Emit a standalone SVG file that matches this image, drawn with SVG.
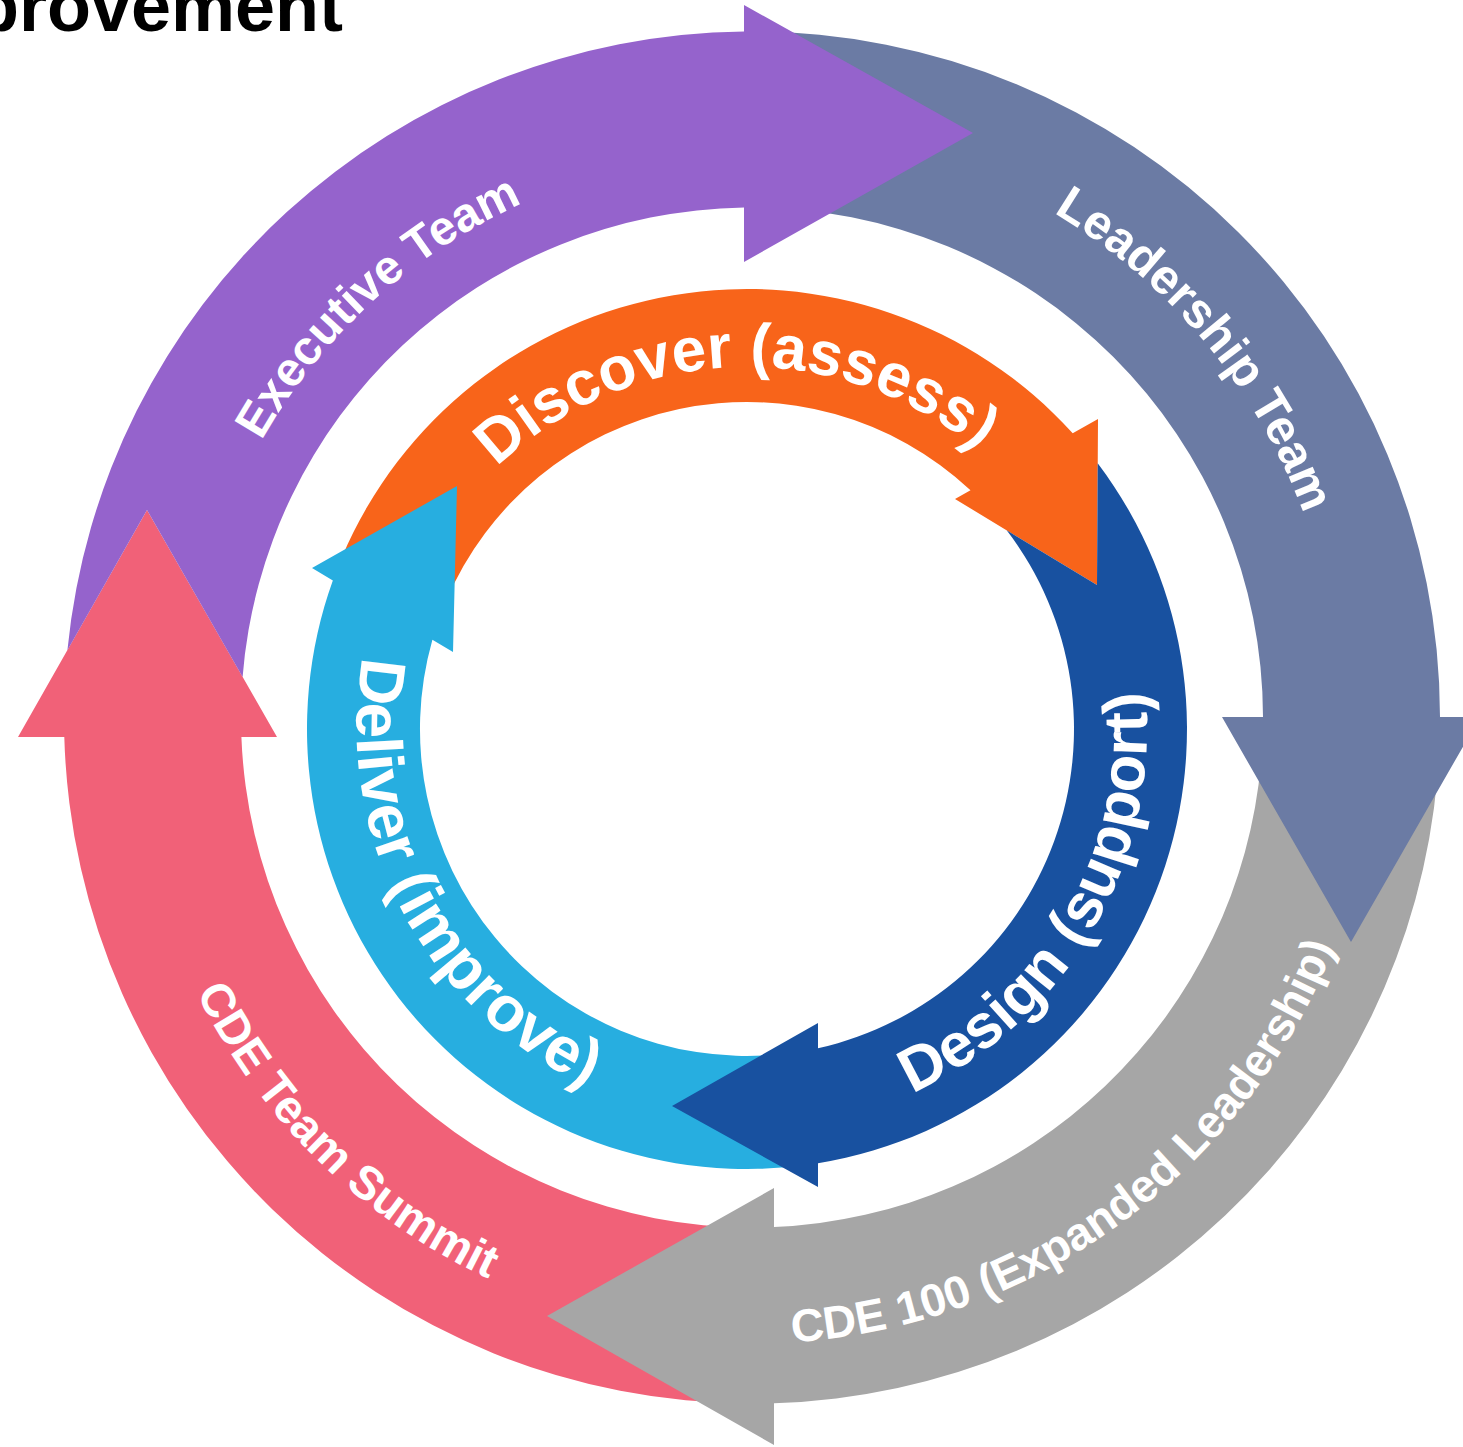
<svg xmlns="http://www.w3.org/2000/svg" xmlns:xlink="http://www.w3.org/1999/xlink" width="1463" height="1447" viewBox="0 0 1463 1447">
<style>
.lbl{font-family:"Liberation Sans",Arial,Helvetica,sans-serif;font-weight:bold;fill:#ffffff}
.o{font-size:48px}
.i{font-size:62px}
.title{font-family:"Liberation Sans",Arial,Helvetica,sans-serif;font-weight:bold;font-size:72px;fill:#000000}
</style>
<defs>
<path id="tpExec" d="M 276.1,1018.4 A 563 563 0 0 1 1096.3,272.1"/>
<path id="tpLead" d="M 460.6,206.8 A 588 588 0 0 1 1200.5,1097.8"/>
<path id="tpCDE100" d="M 317.9,1168.6 A 626 626 0 0 0 1314.1,442.1"/>
<path id="tpSummit" d="M 240.4,367.2 A 620 620 0 0 0 1112.9,1221.6"/>
<path id="tpDiscover" d="M 388.5,678.6 A 362 362 0 0 1 1101.1,653.7"/>
<path id="tpDesign" d="M 546.4,1075.1 A 400 400 0 0 0 947.6,382.9"/>
<path id="tpDeliver" d="M 563.4,379.3 A 395 395 0 0 0 930.6,1078.7"/>
</defs>
<rect x="0" y="0" width="1463" height="1447" fill="#ffffff"/>
<text class="title" x="343" y="31" text-anchor="end">provement</text>
<g id="connectors"></g>
<g id="node-cde-team-summit">
<path fill="#F16178" d="M 752,1403.5 A 688 686 0 0 1 64.3,737 L 18,737 L 147,510 L 277,737 L 241.4,737 A 511 510 0 0 0 752,1227.5 Z"/>
<text class="lbl o" style="font-size:47px"><textPath xlink:href="#tpSummit" href="#tpSummit" startOffset="50%" text-anchor="middle">CDE Team Summit</textPath></text>
</g>
<g id="node-cde-100">
<path fill="#A6A6A6" d="M 1437.38,777.29 A 688 686 0 0 1 774,1403.2 L 774,1445 L 547,1316 L 774,1188 L 774,1227 A 511 510 0 0 0 1261.06,761.95 Z"/>
<text class="lbl o" style="font-size:46px"><textPath xlink:href="#tpCDE100" href="#tpCDE100" startOffset="50%" text-anchor="middle">CDE 100 (Expanded Leadership)</textPath></text>
</g>
<g id="node-leadership-team">
<path fill="#6B7BA4" d="M 752,31.5 A 688 686 0 0 1 1440,717 L 1480,717 L 1351,942 L 1222,717 L 1263,717 A 511 510 0 0 0 752,207.5 Z"/>
<text class="lbl o" style="font-size:49px"><textPath xlink:href="#tpLead" href="#tpLead" startOffset="50%" text-anchor="middle">Leadership Team</textPath></text>
</g>
<g id="node-executive-team">
<path fill="#9563CC" d="M 67.4,650.2 A 688 686 0 0 1 744,31.5 L 744,5 L 973,133 L 744,262 L 744,207.5 A 511 510 0 0 0 242.6,677 L 147,510 Z"/>
<text class="lbl o"><textPath xlink:href="#tpExec" href="#tpExec" startOffset="50%" text-anchor="middle">Executive Team</textPath></text>
</g>
<g id="node-discover">
<path fill="#F8641A" d="M 341.98,557.08 A 440 440 0 0 1 1072.7,433.2 L 1098,419 L 1097,585 L 955,499 L 970.5,490.3 A 327 327 0 0 0 446,601.23 Z"/>
<text class="lbl i"><textPath xlink:href="#tpDiscover" href="#tpDiscover" startOffset="50%" text-anchor="middle">Discover (assess)</textPath></text>
</g>
<g id="node-deliver">
<path fill="#27AEE0" d="M 785.35,1167.32 A 440 440 0 0 1 332.85,580.4 L 312,568 L 457,486 L 453,652 L 432.4,639.7 A 327 327 0 0 0 775.5,1054.75 Z"/>
<text class="lbl i" style="font-size:64px"><textPath xlink:href="#tpDeliver" href="#tpDeliver" startOffset="50%" text-anchor="middle">Deliver (improve)</textPath></text>
</g>
<g id="node-design">
<path fill="#1851A0" d="M 1097.7,463.3 A 440 440 0 0 1 818,1163.24 L 818,1187 L 672,1106 L 818,1023 L 818,1048.2 A 327 327 0 0 0 1006.7,530.3 L 1097,585 Z"/>
<text class="lbl i"><textPath xlink:href="#tpDesign" href="#tpDesign" startOffset="50%" text-anchor="middle">Design (support)</textPath></text>
</g>
</svg>
